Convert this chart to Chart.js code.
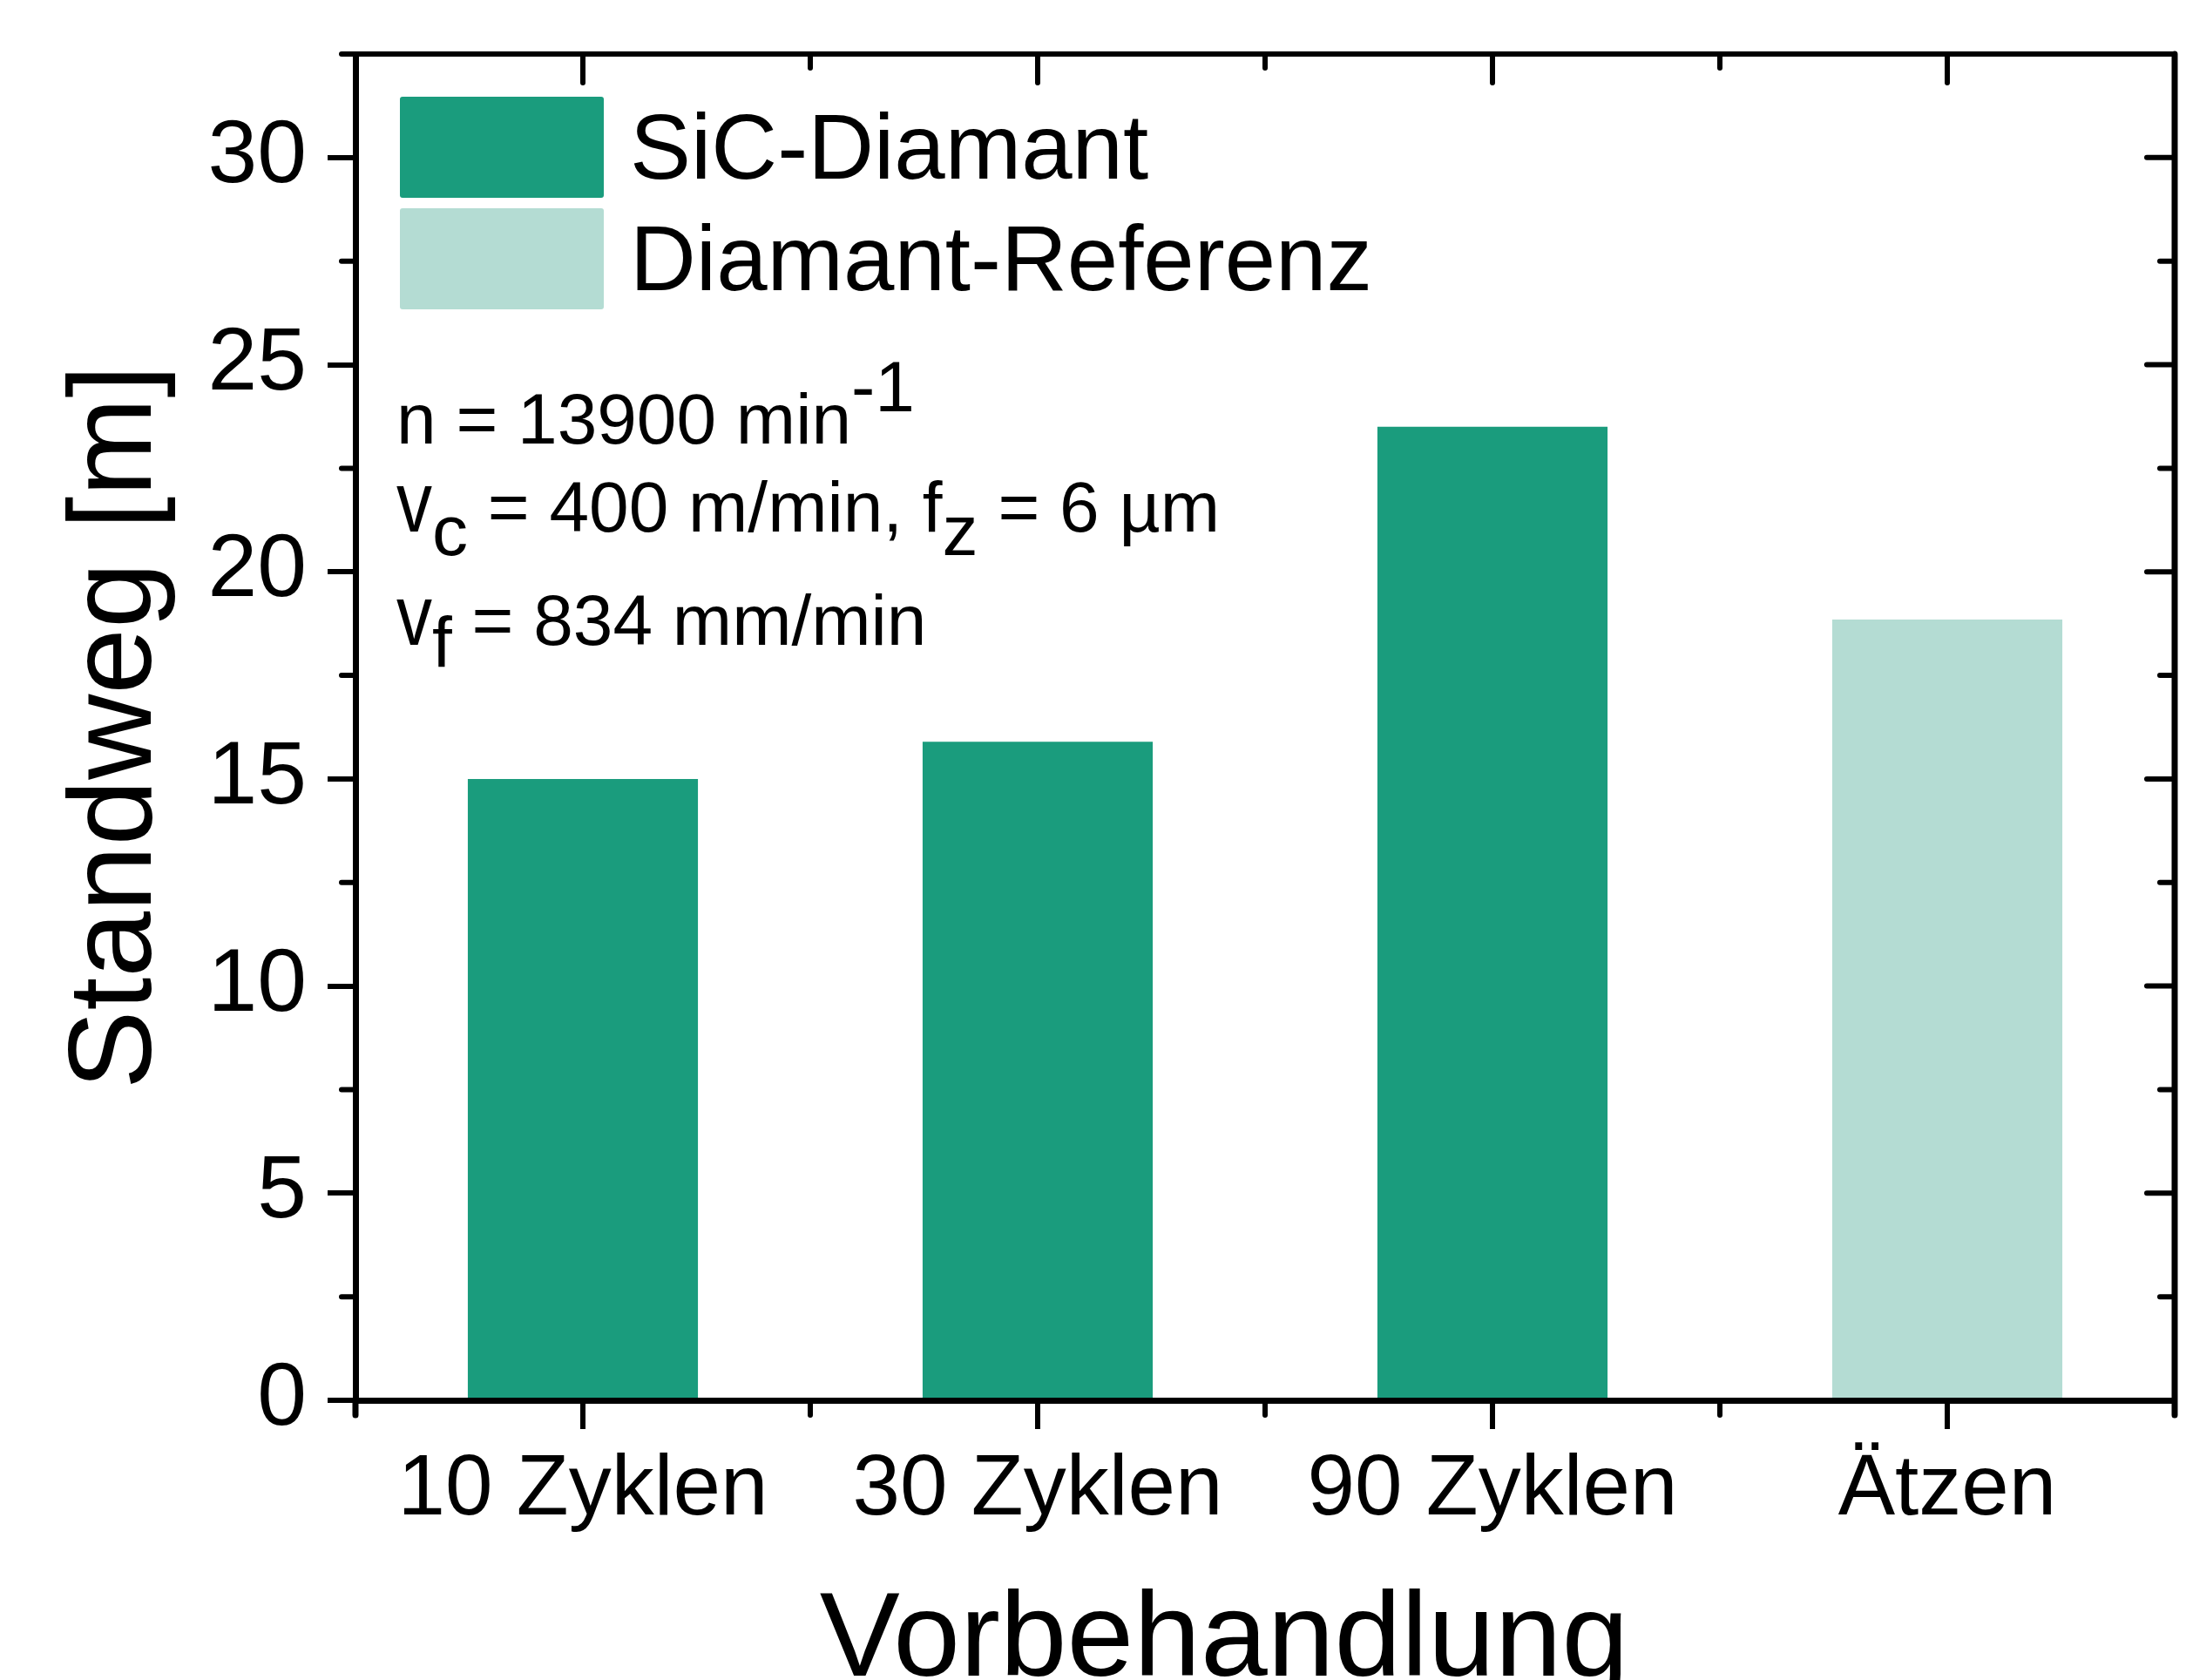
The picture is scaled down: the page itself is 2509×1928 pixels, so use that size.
<!DOCTYPE html>
<html>
<head>
<meta charset="utf-8">
<title>Standweg</title>
<script src="https://cdn.jsdelivr.net/npm/chart.js@4.4.0/dist/chart.umd.min.js"></script>
<style>
    html, body { margin: 0; padding: 0; background: #fff; }
    #wrap { width: 2509px; height: 1928px; }
</style>
</head>
<body>
<div id="wrap"><canvas id="standwegChart" width="2509" height="1928"></canvas></div>
<script>
const categories = ['10 Zyklen', '30 Zyklen', '90 Zyklen', 'Ätzen'];
const sicDiamant = [15.0, 15.9, 23.5, null];
const diamantReferenz = [null, null, null, 18.85];
const yTicks = [0, 5, 10, 15, 20, 25, 30];
const yMinorTicks = [2.5, 7.5, 12.5, 17.5, 22.5, 27.5];

const seriesNames = ['SiC-Diamant', 'Diamant-Referenz'];
const seriesColors = ['#1a9c7d', '#b4dcd3'];

// annotation lines, each part may be shifted up/down (dy) or stretched (sy)
const infoLines = [
    [{ t: 'n = 13900 min' }, { t: '-1', dy: -37 }],
    [{ t: 'v', sy: 1.2 }, { t: 'c', dy: 27 }, { t: ' = 400 m/min, f' }, { t: 'z', dy: 27 }, { t: ' = 6 µm' }],
    [{ t: 'v', sy: 1.2 }, { t: 'f', dy: 25 }, { t: ' = 834 mm/min' }]
];

const FONT = '"Liberation Sans", Arial, Helvetica, sans-serif';
const ctx = document.getElementById('standwegChart').getContext('2d');

const framePlugin = {
    id: 'frame',
    afterDraw(chart) {
        const c = chart.ctx;
        const area = chart.chartArea;
        const x = chart.scales.x;
        const y = chart.scales.y;

        c.save();
        c.strokeStyle = '#000';
        c.lineCap = 'round';

        // top and right frame lines
        c.lineWidth = 6;
        c.beginPath();
        c.moveTo(area.left - 16, area.top);
        c.lineTo(area.right, area.top);
        c.stroke();
        c.lineWidth = 7;
        c.beginPath();
        c.moveTo(area.right, area.top);
        c.lineTo(area.right, area.bottom + 17);
        c.moveTo(area.left, area.bottom);
        c.lineTo(area.left, area.bottom + 17);
        c.stroke();

        c.lineWidth = 6;
        c.beginPath();
        yTicks.forEach(v => {
            if (v === 0) return;
            const py = y.getPixelForValue(v);
            c.moveTo(area.right, py);
            c.lineTo(area.right - 32, py);
        });
        yMinorTicks.forEach(v => {
            const py = y.getPixelForValue(v);
            c.moveTo(area.left, py);
            c.lineTo(area.left - 16, py);
            c.moveTo(area.right, py);
            c.lineTo(area.right - 17, py);
        });
        categories.forEach((cat, i) => {
            const px = x.getPixelForValue(i);
            c.moveTo(px, area.top);
            c.lineTo(px, area.top + 33);
            if (i < categories.length - 1) {
                const bx = (px + x.getPixelForValue(i + 1)) / 2;
                c.moveTo(bx, area.top);
                c.lineTo(bx, area.top + 16);
                c.moveTo(bx, area.bottom);
                c.lineTo(bx, area.bottom + 17);
            }
        });
        c.stroke();

        // legend
        c.font = '105px ' + FONT;
        c.textBaseline = 'alphabetic';
        c.textAlign = 'left';
        chart.data.datasets.forEach((ds, i) => {
            const top = area.top + 49 + i * 128;
            c.fillStyle = ds.backgroundColor;
            c.beginPath();
            c.roundRect(area.left + 51, top, 234, 116, 3);
            c.fill();
            c.fillStyle = '#000';
            c.fillText(ds.label, area.left + 315, top + 94);
        });

        // process parameters
        c.font = '82px ' + FONT;
        infoLines.forEach((line, i) => {
            let px = area.left + 47;
            const base = [509, 610, 740][i];
            line.forEach(part => {
                const w = c.measureText(part.t).width;
                c.save();
                c.translate(px, base + (part.dy || 0));
                c.scale(1, part.sy || 1);
                c.fillText(part.t, 0, 0);
                c.restore();
                px += w;
            });
        });

        // x axis title
        c.font = '138px ' + FONT;
        c.textAlign = 'center';
        c.fillText('Vorbehandlung', (area.left + area.right) / 2 - 47, 1923);
        c.restore();
    }
};

const chart = new Chart(ctx, {
    type: 'bar',
    data: {
        labels: categories,
        datasets: [{
            label: seriesNames[0],
            data: sicDiamant,
            backgroundColor: seriesColors[0],
            grouped: false,
            categoryPercentage: 1,
            barPercentage: 0.506
        }, {
            label: seriesNames[1],
            data: diamantReferenz,
            backgroundColor: seriesColors[1],
            grouped: false,
            categoryPercentage: 1,
            barPercentage: 0.506
        }]
    },
    options: {
        responsive: false,
        animation: false,
        layout: { padding: { left: 0, right: 13, top: 62, bottom: 0 } },
        plugins: {
            legend: { display: false },
            tooltip: { enabled: false }
        },
        scales: {
            x: {
                grid: { offset: false, drawOnChartArea: false, tickLength: 33, lineWidth: 6, color: '#000' },
                border: { width: 7, color: '#000' },
                ticks: {
                    color: '#000',
                    font: { family: FONT, size: 98 },
                    padding: 12,
                    maxRotation: 0,
                    autoSkip: false
                },
                afterFit: s => {
                    s.height = 321;
                    s.paddingLeft = 0;
                    s.paddingRight = 0;
                }
            },
            y: {
                min: 0,
                max: 32.5,
                grid: { drawOnChartArea: false, tickLength: 32, lineWidth: 6, color: '#000' },
                border: { width: 7, color: '#000' },
                ticks: {
                    color: '#000',
                    font: { family: FONT, size: 102 },
                    padding: 24
                },
                title: {
                    display: true,
                    text: 'Standweg [m]',
                    color: '#000',
                    font: { family: FONT, size: 136 },
                    padding: { top: 54, bottom: 0 }
                },
                afterBuildTicks: s => { s.ticks = yTicks.map(v => ({ value: v })); },
                afterFit: s => {
                    s.width = 408;
                    s.paddingTop = 0;
                    s.paddingBottom = 0;
                }
            }
        }
    },
    plugins: [framePlugin]
});
</script>
</body>
</html>
